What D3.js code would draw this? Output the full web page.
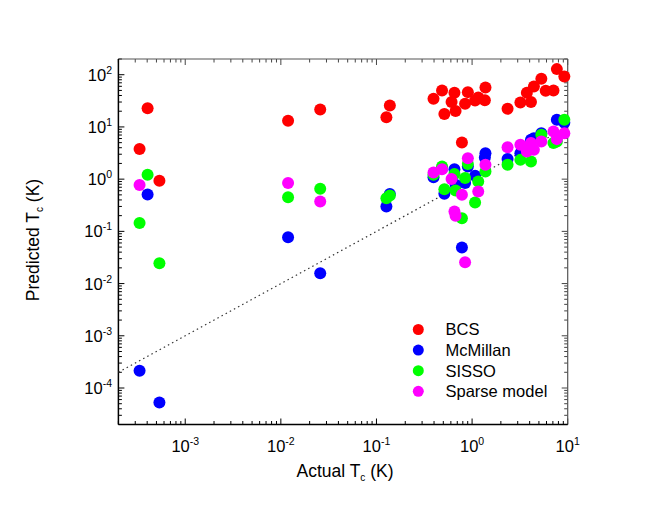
<!DOCTYPE html>
<html><head><meta charset="utf-8">
<script src="https://cdn.jsdelivr.net/npm/d3@7"></script>
<style>body{margin:0;background:#fff}svg{display:block}text{font-family:"Liberation Sans",Arial,sans-serif}</style>
</head><body><div id="chart"></div>
<script>
// Actual Tc (K) of each material
const actualTc = [3.33e-4, 4.04e-4, 5.37e-4, 0.0119, 0.0258, 0.127, 0.138,
  0.395, 0.485, 0.513, 0.61, 0.654, 0.672, 0.783, 0.845, 0.903, 1.075, 1.16, 1.36, 1.38,
  2.35, 3.2, 3.74, 4.13, 4.43, 5.3, 5.89, 7.1, 7.7, 9.22];
// Predicted Tc (K) by each model (null = not visible)
const bcs = [3.76, 22.9, 0.93, 13.1, 21.5, 15.4, 25.7,
  34.5, 49.8, 17.6, 29.9, 45, 20.1, 5.02, 27.7, 46.4, 32.1, 36.6, 32.6, 56.9,
  22.2, 29.3, 45, 29.9, 59.4, 83.4, 49.2, 49.8, 128, 92.4];
const mcmillan = [2.13e-4, 0.507, 5.25e-5, 0.0774, 0.0158, 0.30, 0.52,
  1.09, 1.6, 0.523, null, 1.55, 0.78, 0.049, 0.84, 1.74, 1.16, null, 2.6, 3.15,
  2.42, 3.15, null, 5.66, 6.1, 7.6, null, null, 13.7, 12.0];
const sisso = [0.144, 1.21, 0.0246, 0.452, 0.652, 0.43, 0.485,
  1.21, 1.74, 0.643, null, 1.26, 0.605, 0.179, 1.05, 1.96, 0.356, 0.90, null, 1.40,
  1.88, 2.34, null, 2.17, null, 7.06, null, 4.9, 5.25, 13.7];
const sparse = [0.77, null, null, 0.84, 0.372, null, null,
  1.34, 1.55, null, 1.01, 0.239, 0.198, 0.50, 0.0257, 2.52, null, 0.578, null, 1.88,
  4.1, 4.54, 3.38, 4.9, 3.64, 5.25, null, 8.2, 5.84, 7.6];
const seriesNames = ["BCS", "McMillan", "SISSO", "Sparse model"];
const seriesColors = ["#ff0000", "#0000ff", "#00ff00", "#ff00ff"];
const seriesValues = [bcs, mcmillan, sisso, sparse];
const xTickExps = [-3, -2, -1, 0, 1];
const yTickExps = [-4, -3, -2, -1, 0, 1, 2];

const W = 660, H = 510;
const L = 118.4, R = 567.7, T = 59, B = 424.5;
const svg = d3.select("#chart").append("svg").attr("width", W).attr("height", H);
const x = d3.scaleLog().domain([2e-4, 10]).range([L, R]);
const y = d3.scaleLog().domain([2e-5, 200]).range([B, T]);

function minorTicks(domain) {
  const out = [];
  const lo = Math.floor(Math.log10(domain[0])), hi = Math.ceil(Math.log10(domain[1]));
  for (let e = lo; e <= hi; e++) for (let m = 1; m <= 9; m++) {
    const v = m * Math.pow(10, e);
    if (v >= domain[0] * 0.999 && v <= domain[1] * 1.001) out.push(v);
  }
  return out;
}
const xt = minorTicks(x.domain()), yt = minorTicks(y.domain());
const isMajor = v => Math.abs(Math.log10(v) - Math.round(Math.log10(v))) < 1e-6;

const g = svg.append("g");
function tickLen(v) { return isMajor(v) ? 6 : 3.5; }
g.selectAll(".xb").data(xt).join("line").attr("x1", d => x(d)).attr("x2", d => x(d))
  .attr("y1", B).attr("y2", d => B - tickLen(d)).attr("stroke", "#000");
g.selectAll(".xt").data(xt).join("line").attr("x1", d => x(d)).attr("x2", d => x(d))
  .attr("y1", T).attr("y2", d => T + tickLen(d)).attr("stroke", "#444");
g.selectAll(".yl").data(yt).join("line").attr("y1", d => y(d)).attr("y2", d => y(d))
  .attr("x1", L).attr("x2", d => L + tickLen(d)).attr("stroke", "#000");
g.selectAll(".yr").data(yt).join("line").attr("y1", d => y(d)).attr("y2", d => y(d))
  .attr("x1", R).attr("x2", d => R - tickLen(d)).attr("stroke", "#444");

// frame
svg.append("line").attr("x1", L).attr("x2", R).attr("y1", T).attr("y2", T).attr("stroke", "#555").attr("stroke-width", 1.2);
svg.append("line").attr("x1", R).attr("x2", R).attr("y1", T).attr("y2", B).attr("stroke", "#555").attr("stroke-width", 1.2);
svg.append("line").attr("x1", L).attr("x2", R).attr("y1", B).attr("y2", B).attr("stroke", "#000").attr("stroke-width", 1.5);
svg.append("line").attr("x1", L).attr("x2", L).attr("y1", T).attr("y2", B).attr("stroke", "#000").attr("stroke-width", 1.5);

// tick labels
xTickExps.forEach(e => {
  const t = svg.append("text").attr("x", x(Math.pow(10, e))).attr("y", 452)
    .attr("text-anchor", "middle").attr("font-size", 16.5).attr("fill", "#000");
  t.append("tspan").text("10");
  t.append("tspan").attr("dy", -7).attr("font-size", 10.5).text(e);
});
yTickExps.forEach(e => {
  const t = svg.append("text").attr("x", 112).attr("y", y(Math.pow(10, e)) + 6)
    .attr("text-anchor", "end").attr("font-size", 16.5).attr("fill", "#000");
  t.append("tspan").text("10");
  t.append("tspan").attr("dy", -7).attr("font-size", 10.5).text(e);
});

// axis titles
const xl = svg.append("text").attr("x", 345).attr("y", 477).attr("text-anchor", "middle").attr("font-size", 17.5);
xl.append("tspan").text("Actual T");
xl.append("tspan").attr("dy", 4).attr("font-size", 10).text("c");
xl.append("tspan").attr("dy", -4).text(" (K)");
const yl = svg.append("text").attr("transform", "translate(39,240) rotate(-90)").attr("text-anchor", "middle").attr("font-size", 17.5);
yl.append("tspan").text("Predicted T");
yl.append("tspan").attr("dy", 4).attr("font-size", 10).text("c");
yl.append("tspan").attr("dy", -4).text(" (K)");

// y = x reference line
svg.append("line").attr("x1", x(2e-4)).attr("y1", y(2e-4)).attr("x2", x(10)).attr("y2", y(10))
  .attr("stroke", "#333").attr("stroke-width", 1.2).attr("stroke-dasharray", "1.5,3.2");

// points
seriesValues.forEach((vals, i) => {
  const pts = actualTc.map((a, k) => [a, vals[k]]).filter(p => p[1] != null);
  svg.append("g").selectAll("circle").data(pts).join("circle")
    .attr("cx", d => x(d[0])).attr("cy", d => y(d[1])).attr("r", 6)
    .attr("fill", seriesColors[i]);
});

// legend
seriesNames.forEach((n, i) => {
  const yy = 329.5 + i * 20.6;
  svg.append("circle").attr("cx", 418.3).attr("cy", yy).attr("r", 5.5).attr("fill", seriesColors[i]);
  svg.append("text").attr("x", 445.5).attr("y", yy + 5.8).attr("font-size", 16.5).text(n);
});
</script></body></html>
